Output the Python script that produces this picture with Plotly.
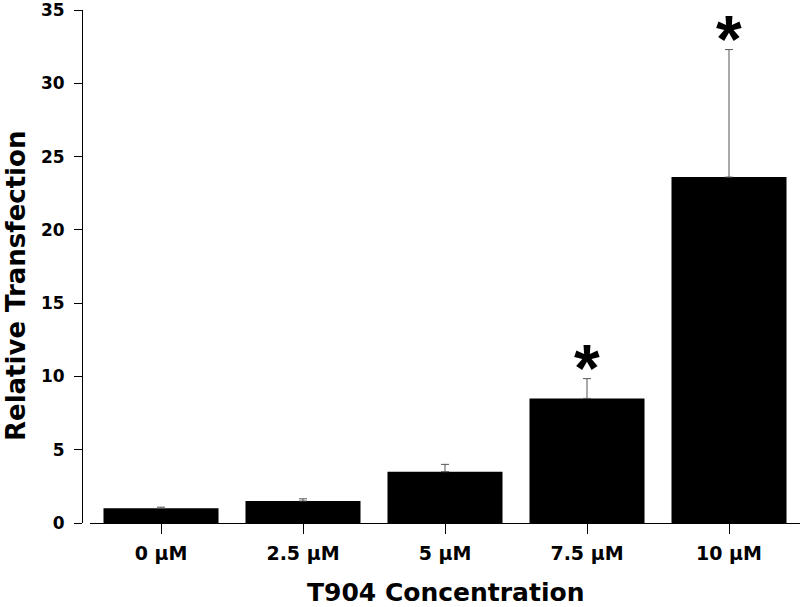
import plotly.graph_objects as go

categories = ["0 µM", "2.5 µM", "5 µM", "7.5 µM", "10 µM"]
means = [1.0, 1.5, 3.5, 8.5, 23.6]
errors = [0.08, 0.15, 0.5, 1.35, 8.7]
significant = [False, False, False, True, True]
y_ticks = [0, 5, 10, 15, 20, 25, 30, 35]

FONT = "DejaVu Sans"

fig = go.Figure(
    go.Bar(
        x=categories,
        y=means,
        marker=dict(color="black", line=dict(width=0)),
        error_y=dict(
            type="data",
            symmetric=False,
            array=errors,
            arrayminus=[0] * len(errors),
            color="#555555",
            thickness=1,
            width=4,
        ),
    )
)

for cat, m, e, s in zip(categories, means, errors, significant):
    if s:
        fig.add_annotation(
            x=cat, y=m + e, text="*", showarrow=False,
            yanchor="bottom", yshift=-27, borderpad=0,
            font=dict(family="Liberation Sans", size=66, color="black", weight="bold"),
        )

# axis titles as annotations for exact placement
fig.add_annotation(
    text="Relative Transfection", textangle=-90, showarrow=False,
    xref="paper", yref="paper", x=0, y=0.462, xanchor="center", yanchor="middle",
    xshift=-66, borderpad=0,
    font=dict(family=FONT, size=26, color="black", weight="bold"),
)
fig.add_annotation(
    text="T904 Concentration", showarrow=False,
    xref="x domain", yref="paper", x=0.5, y=0, xanchor="center", yanchor="top",
    yshift=-54, borderpad=0,
    font=dict(family=FONT, size=25, color="black", weight="bold"),
)

plot_w = 800 - 82
fig.update_layout(
    width=800, height=607,
    margin=dict(l=82, r=0, t=10, b=84),
    paper_bgcolor="white", plot_bgcolor="white",
    bargap=0.19,
    showlegend=False,
    xaxis=dict(
        domain=[8 / plot_w, 1],
        range=[-0.5, 4.5],
        automargin=False,
        showline=True, linecolor="black", linewidth=1,
        ticks="outside", ticklen=10, tickcolor="black", tickwidth=1,
        ticklabelstandoff=3,
        tickfont=dict(family=FONT, size=19, color="black", weight="bold"),
        showgrid=False, zeroline=False,
    ),
    yaxis=dict(
        anchor="free", position=0,
        range=[0, 35],
        automargin=False,
        tickvals=y_ticks,
        ticklabeloverflow="allow",
        showline=True, linecolor="black", linewidth=1,
        ticks="outside", ticklen=8, tickcolor="black", tickwidth=1,
        ticklabelstandoff=6,
        tickfont=dict(family=FONT, size=17, color="black", weight="bold"),
        showgrid=False, zeroline=False,
    ),
)

fig.write_html("out.html", post_script="document.body.style.margin='0px';",
               config={"displayModeBar": False})
